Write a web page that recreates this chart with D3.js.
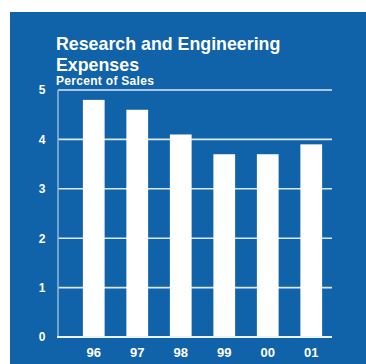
<!DOCTYPE html>
<html>
<head>
<meta charset="utf-8">
<script src="https://cdn.jsdelivr.net/npm/d3@7"></script>
<style>
  html, body { margin: 0; padding: 0; background: #fff; }
  svg { display: block; }
  text { font-family: "Liberation Sans", Arial, sans-serif; font-weight: bold; fill: #fff; }
</style>
</head>
<body>
<svg id="chart" width="366" height="364"></svg>
<script>
// R&D spending as a share of sales, by fiscal year
const years = ["96", "97", "98", "99", "00", "01"];
const percentOfSales = [4.8, 4.6, 4.1, 3.7, 3.7, 3.9];
const yTicks = [0, 1, 2, 3, 4, 5];

const svg = d3.select("#chart");
const blue = "#1062a9";

// panel background
svg.append("rect")
  .attr("x", 10).attr("y", 12)
  .attr("width", 356).attr("height", 352)
  .attr("fill", blue);

const x = d3.scaleBand().domain(years).range([72, 333]).paddingInner(0.5).paddingOuter(0.25);
const y = d3.scaleLinear().domain([0, 5]).range([337, 90]);

// horizontal gridlines
svg.append("g")
  .selectAll("line")
  .data(yTicks.filter(d => d > 0))
  .join("line")
  .attr("x1", 58).attr("x2", 332)
  .attr("y1", d => y(d)).attr("y2", d => y(d))
  .attr("stroke", "#dce7f2")
  .attr("stroke-width", 1.6);

// bars
svg.append("g")
  .selectAll("rect")
  .data(percentOfSales)
  .join("rect")
  .attr("x", (d, i) => x(years[i]))
  .attr("width", x.bandwidth())
  .attr("y", d => y(d))
  .attr("height", d => y(0) - y(d))
  .attr("fill", "#fff");

// y axis line
svg.append("line")
  .attr("x1", 58).attr("x2", 58)
  .attr("y1", y(5)).attr("y2", y(0))
  .attr("stroke", "#8fb2d9").attr("stroke-width", 1.6);

// baseline
svg.append("line")
  .attr("x1", 57).attr("x2", 332)
  .attr("y1", y(0)).attr("y2", y(0))
  .attr("stroke", "#eef3f9").attr("stroke-width", 2);

// y tick labels
svg.append("g")
  .selectAll("text")
  .data(yTicks)
  .join("text")
  .attr("x", 42)
  .attr("y", d => y(d) + 4.3)
  .attr("text-anchor", "middle")
  .attr("font-size", 12)
  .text(d => d);

// x tick labels
const xAxis = d3.axisBottom(x).tickSize(0).tickPadding(0);
const gx = svg.append("g").attr("transform", `translate(0,${y(0)})`).call(xAxis);
gx.select(".domain").remove();
gx.selectAll("text")
  .attr("y", 20)
  .attr("dy", 0)
  .attr("font-size", 13)
  .attr("fill", "#fff")
  .style("font-family", '"Liberation Sans", Arial, sans-serif')
  .style("font-weight", "bold");

// titles
svg.append("text").attr("x", 56).attr("y", 50).attr("font-size", 17.8).text("Research and Engineering");
svg.append("text").attr("x", 56).attr("y", 70.5).attr("font-size", 17.8).text("Expenses");
svg.append("text").attr("x", 56).attr("y", 85.3).attr("font-size", 12).attr("letter-spacing", 0.3).text("Percent of Sales");
</script>
</body>
</html>
